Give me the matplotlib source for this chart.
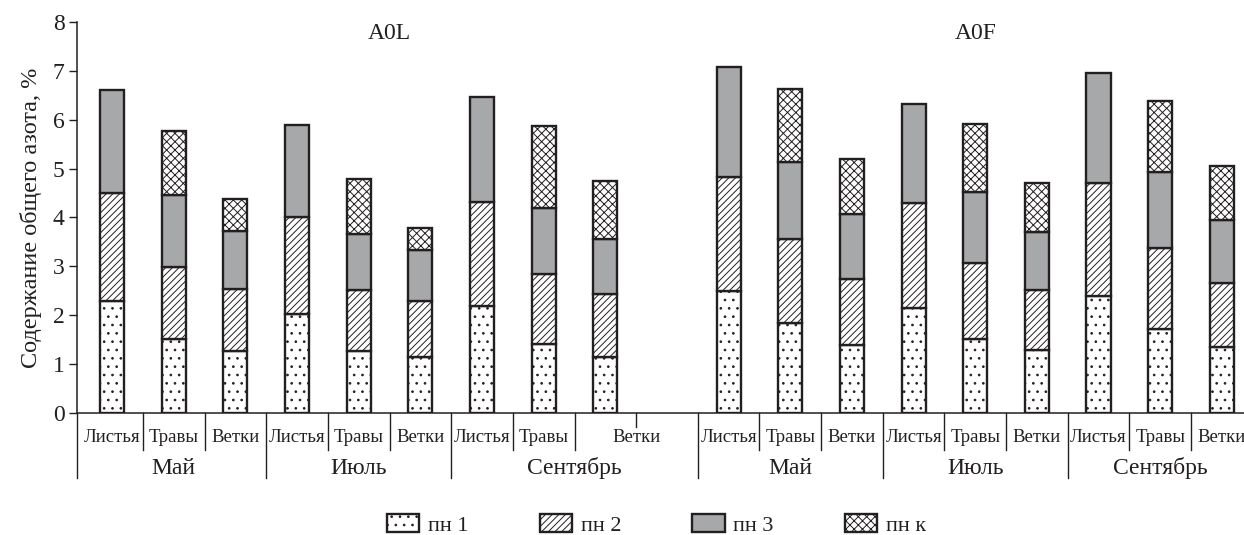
import numpy as np
import matplotlib.pyplot as plt
from matplotlib.patches import Patch

plt.rcParams['font.family'] = ['Liberation Serif', 'DejaVu Serif']
plt.rcParams['hatch.linewidth'] = 0.7

INK = '#231f20'

sites = ['A0L', 'A0F']
months = ['Май', 'Июль', 'Сентябрь']
parts = ['Листья', 'Травы', 'Ветки']
series = ['пн 1', 'пн 2', 'пн 3', 'пн к']

# nitrogen by layer, % (site x month x plant part, 18 columns)
pn1 = [2.30, 1.51, 1.28, 2.03, 1.28, 1.14, 2.19, 1.41, 1.14,
       2.50, 1.84, 1.40, 2.16, 1.51, 1.29, 2.40, 1.72, 1.35]
pn2 = [2.20, 1.48, 1.25, 1.98, 1.23, 1.16, 2.13, 1.44, 1.29,
       2.33, 1.72, 1.34, 2.14, 1.57, 1.23, 2.31, 1.66, 1.31]
pn3 = [2.10, 1.46, 1.20, 1.88, 1.15, 1.04, 2.14, 1.35, 1.14,
       2.25, 1.57, 1.33, 2.02, 1.45, 1.19, 2.24, 1.54, 1.29]
pnk = [0.00, 1.32, 0.65, 0.00, 1.13, 0.45, 0.00, 1.66, 1.18,
       0.00, 1.50, 1.13, 0.00, 1.37, 0.99, 0.00, 1.45, 1.11]

fills = ['white', 'white', '#a7a8aa', 'white']
hatches = ['..', '/////', None, 'xxxx']

# one empty slot between the two sites
x = np.r_[0:9, 10:19]

fig = plt.figure(figsize=(12.44, 5.35), dpi=100)
ax = fig.add_axes([0.0619, 0.2275, 0.9381, 0.732])

bottom = np.zeros(len(x))
for vals, fc, h in zip([pn1, pn2, pn3, pnk], fills, hatches):
    vals = np.array(vals)
    m = vals > 0
    ax.bar(x[m], vals[m], bottom=bottom[m], width=0.39, color=fc,
           edgecolor=INK, linewidth=1.7, hatch=h, zorder=3)
    bottom += vals

ax.set_xlim(-0.57, 18.36)
ax.set_ylim(0, 8)
ax.set_yticks(range(9))
ax.set_xticks([])
ax.tick_params(axis='y', direction='out', length=6, width=1, color=INK,
               labelsize=17, labelcolor=INK, pad=3)
for s in ['top', 'right']:
    ax.spines[s].set_visible(False)
for s in ['left', 'bottom']:
    ax.spines[s].set_color(INK)
    ax.spines[s].set_linewidth(1.1)

ax.set_ylabel('Содержание общего азота, %', fontsize=17.5, color=INK, labelpad=8)

# site titles
for i, name in enumerate(sites):
    ax.text(x[i * 9:(i + 1) * 9].mean() + 0.5 * (i == 0), 7.76, name,
            ha='center', va='center', fontsize=17, color=INK)

# two-level category axis
tr = ax.get_xaxis_transform()
lab_x = x.astype(float)
lab_x[8] += 0.5  # last A0L label spans the empty slot
for k, px in enumerate(lab_x):
    ax.text(px, -0.063, parts[k % 3], transform=tr, ha='center', va='center',
            fontsize=13.5, color=INK)

groups = [x[0:3], x[3:6], np.r_[6:10], x[9:12], x[12:15], x[15:18]]
for g, gx in enumerate(groups):
    ax.text(gx.mean(), -0.14, months[g % 3], transform=tr, ha='center',
            va='center', fontsize=17, color=INK)

line_kw = dict(transform=tr, color=INK, linewidth=1.0, clip_on=False)
for b in [-0.57, 2.5, 5.5, 9.5, 12.5, 15.5]:
    ax.plot([b, b], [0, -0.165], **line_kw)
for b in [0.5, 1.5, 3.5, 4.5, 6.5, 7.5, 10.5, 11.5, 13.5, 14.5, 16.5, 17.5]:
    ax.plot([b, b], [0, -0.094], **line_kw)
ax.plot([8.5, 8.5], [0, -0.035], **line_kw)

handles = [Patch(facecolor=fc, edgecolor=INK, linewidth=1.7, hatch=h)
           for fc, h in zip(fills, hatches)]
fig.legend(handles, series, loc='upper left', bbox_to_anchor=(0.311, 0.039),
           ncol=4, frameon=False, fontsize=16, handlelength=1.45,
           handleheight=0.85, handletextpad=0.4, columnspacing=3.2,
           borderpad=0, borderaxespad=0, labelcolor=INK)

fig.savefig('out.png', dpi=100)
